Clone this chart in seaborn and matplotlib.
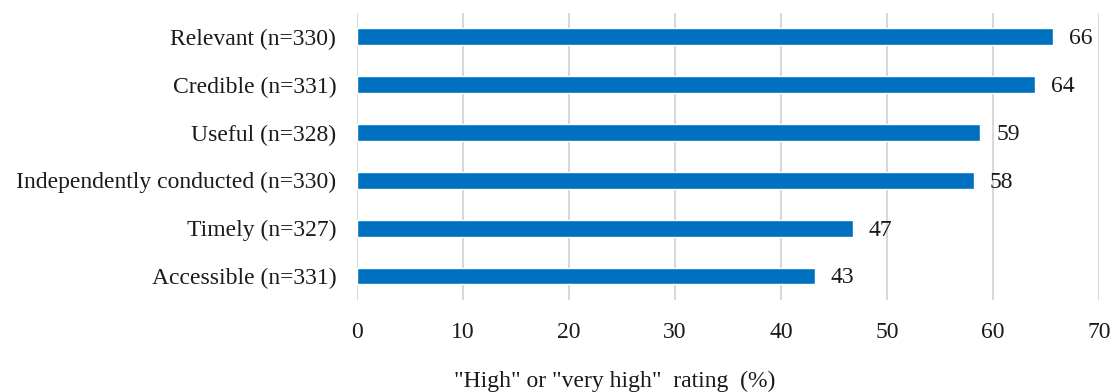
import pandas as pd
import matplotlib.pyplot as plt
import seaborn as sns

# ================= DATA =================
categories = [
    "Relevant (n=330)",
    "Credible (n=331)",
    "Useful (n=328)",
    "Independently conducted (n=330)",
    "Timely (n=327)",
    "Accessible (n=331)",
]
values = [65.7, 64.0, 58.8, 58.2, 46.8, 43.2]
labels = [66, 64, 59, 58, 47, 43]

df = pd.DataFrame({"category": categories, "value": values})

# ================= STYLE =================
sns.set_theme(style="white")
plt.rcParams["font.family"] = ["Liberation Serif", "DejaVu Serif"]
FS = 17

fig = plt.figure(figsize=(11.13, 3.92), dpi=100)
ax = fig.add_axes([0.3208, 0.235, 0.6666, 0.732])

sns.barplot(data=df, x="value", y="category", orient="h", color="#0070C0",
            saturation=1, width=0.35, ax=ax, zorder=3)

# value labels at bar ends
for i, (v, lab) in enumerate(zip(values, labels)):
    ax.text(v + 1.5, i + 0.04, str(lab), va="center", ha="left", fontsize=FS, color="#1a1a1a")

ax.set_xlim(0, 70)
ax.set_ylim(5.5, -0.5)
ax.set_xticks(range(0, 71, 10))
ax.xaxis.grid(True, color="#d9d9d9", linewidth=1.5, zorder=0)
ax.yaxis.grid(False)
for s in ax.spines.values():
    s.set_visible(False)
ax.tick_params(axis="both", length=0, labelsize=FS, labelcolor="#1a1a1a")
ax.tick_params(axis="x", pad=16)
ax.tick_params(axis="y", pad=15)
ax.set_xlabel("")
ax.set_ylabel("")

fig.text(0.5526, 0.027, '"High" or "very high"  rating  (%)', ha="center",
         va="center", fontsize=FS, color="#1a1a1a")

fig.savefig("out.png", dpi=100)
plt.close()
